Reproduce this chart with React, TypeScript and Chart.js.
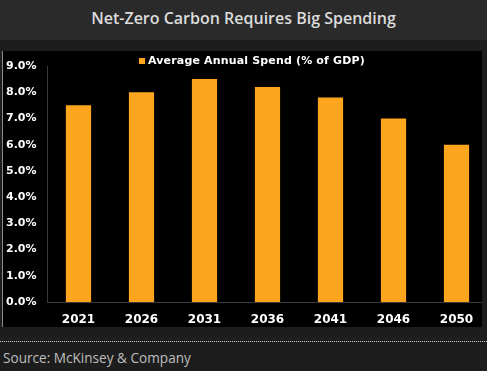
import React, { useEffect, useRef } from "react";
import { Chart, registerables } from "chart.js";

Chart.register(...registerables);

const title = "Net-Zero Carbon Requires Big Spending";
const source = "Source: McKinsey & Company";
const seriesLabel = "Average Annual Spend (% of GDP)";
const years = ["2021", "2026", "2031", "2036", "2041", "2046", "2050"];
const spend = [7.5, 8.0, 8.5, 8.2, 7.8, 7.0, 6.0];
const yMax = 9;
const barColor = "#fca51d";

export default function App() {
  const ref = useRef<HTMLCanvasElement>(null);
  useEffect(() => {
    document.body.style.margin = "0";
    const chart = new Chart(ref.current!, {
      type: "bar",
      data: {
        labels: years,
        datasets: [
          {
            label: seriesLabel,
            data: spend,
            backgroundColor: barColor,
            barPercentage: 0.8,
            categoryPercentage: 0.5,
          },
        ],
      },
      options: {
        animation: false,
        responsive: false,
        maintainAspectRatio: false,
        layout: { padding: { top: 15, right: 0, left: 3, bottom: 0 } },
        plugins: { legend: { display: false }, tooltip: { enabled: false } },
        scales: {
          x: {
            grid: { display: false },
            border: { display: true, color: "#3a3a3a" },
            ticks: {
              color: "#ffffff",
              font: { family: "DejaVu Sans", weight: "bold", size: 12 },
              padding: 3,
              maxRotation: 0,
            },
            afterFit: (s: any) => {
              s.height = 25;
            },
          },
          y: {
            min: 0,
            max: yMax,
            grid: { display: false },
            border: { display: true, color: "#3a3a3a" },
            ticks: {
              stepSize: 1,
              color: "#ffffff",
              font: { family: "DejaVu Sans", weight: "bold", size: 11 },
              crossAlign: "far",
              callback: (v: any) => Number(v).toFixed(1) + "%",
            },
            afterFit: (s: any) => {
              s.width = 41;
            },
          },
        },
      },
    });
    return () => chart.destroy();
  }, []);

  return (
    <div
      style={{
        position: "relative",
        width: 487,
        height: 371,
        background: "#1d1d1d",
        overflow: "hidden",
      }}
    >
      <div
        style={{
          position: "absolute",
          left: 0,
          top: 0,
          width: 487,
          height: 40,
          background: "#2a2a2a",
          color: "#dcdcdc",
          fontFamily: "'Open Sans', sans-serif",
          fontSize: 16,
          fontWeight: 600,
          lineHeight: "36px",
          textAlign: "center",
        }}
      >
        {title}
      </div>
      <div
        style={{
          position: "absolute",
          left: 2,
          top: 51,
          width: 479,
          height: 276,
          background: "#000",
          borderLeft: "1px solid #8a8a8a",
          overflow: "hidden",
        }}
      >
        <canvas ref={ref} width={485} height={276} style={{ display: "block" }} />
        <div
          style={{
            position: "absolute",
            left: 136,
            top: 3,
            whiteSpace: "nowrap",
            color: "#fff",
            fontFamily: "'DejaVu Sans', sans-serif",
            fontWeight: "bold",
            fontSize: 11,
            letterSpacing: "0.16px",
            lineHeight: "13px",
          }}
        >
          <span
            style={{
              display: "inline-block",
              width: 6,
              height: 6,
              background: barColor,
              marginRight: 3,
              verticalAlign: "middle",
            }}
          />
          {seriesLabel}
        </div>
      </div>
      <div
        style={{
          position: "absolute",
          left: 0,
          top: 341,
          width: 487,
          borderTop: "1px dotted #cfcfcf",
        }}
      />
      <div
        style={{
          position: "absolute",
          left: 3,
          top: 348,
          color: "#bdbdbd",
          fontFamily: "'Open Sans', sans-serif",
          fontSize: 13.6,
          lineHeight: "20px",
        }}
      >
        {source}
      </div>
    </div>
  );
}
